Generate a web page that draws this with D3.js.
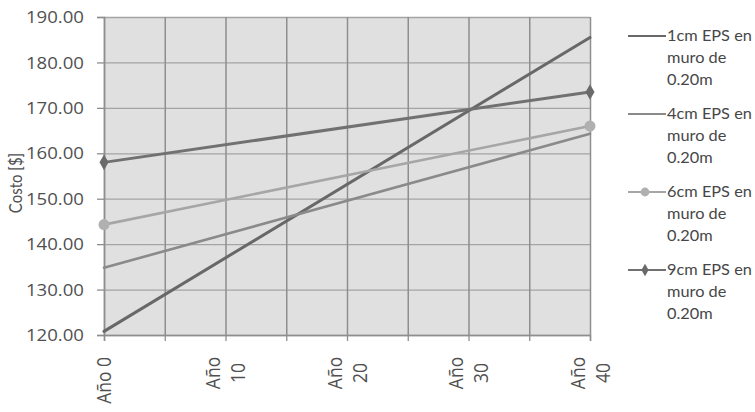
<!DOCTYPE html>
<html>
<head>
<meta charset="utf-8">
<script src="https://cdn.jsdelivr.net/npm/d3@7"></script>
<style>
  html, body { margin: 0; padding: 0; background: #ffffff; }
  svg { display: block; }
</style>
</head>
<body>
<svg id="chart" width="755" height="412"></svg>
<script>
// Years on the category axis (grid every 5 years, labels every 10)
const gridYears = [0, 5, 10, 15, 20, 25, 30, 35, 40];
const tickYears = [0, 10, 20, 30, 40];
const tickLabels = [["Año 0"], ["Año", "10"], ["Año", "20"], ["Año", "30"], ["Año", "40"]];
const costTicks = [120, 130, 140, 150, 160, 170, 180, 190];

// Cost per wall option at year 0 and year 40
const years = [0, 40];
const cost1cm = [120.8, 185.5];
const cost4cm = [134.8, 164.3];
const cost6cm = [144.3, 166.0];
const cost9cm = [158.0, 173.5];

const legendLines = [
  ["1cm EPS en", "muro de", "0.20m"],
  ["4cm EPS en", "muro de", "0.20m"],
  ["6cm EPS en", "muro de", "0.20m"],
  ["9cm EPS en", "muro de", "0.20m"]
];

const series = [
  { values: cost1cm, color: "#686868", width: 3,   marker: null },
  { values: cost4cm, color: "#8a8a8a", width: 2.6, marker: null },
  { values: cost6cm, color: "#a6a6a6", width: 2.6, marker: "circle", markerColor: "#b0b0b0" },
  { values: cost9cm, color: "#717171", width: 3,   marker: "diamond", markerColor: "#6a6a6a" }
];

const svg = d3.select("#chart");
const plotLeft = 104, plotRight = 590, plotTop = 17, plotBottom = 335;

const x = d3.scaleLinear().domain([0, 40]).range([plotLeft, plotRight]);
const y = d3.scaleLinear().domain([120, 190]).range([plotBottom, plotTop]);

// plot background
svg.append("rect")
  .attr("x", plotLeft).attr("y", plotTop)
  .attr("width", plotRight - plotLeft).attr("height", plotBottom - plotTop)
  .attr("fill", "#e0e0e0");

// horizontal gridlines
svg.append("g")
  .attr("transform", `translate(${plotLeft},0)`)
  .call(d3.axisLeft(y).tickValues(costTicks).tickSize(-(plotRight - plotLeft)).tickFormat(""))
  .call(g => g.select(".domain").remove())
  .call(g => g.selectAll(".tick line").attr("stroke", "#a4a4a4").attr("stroke-width", 1.3));

// vertical gridlines
svg.append("g")
  .attr("transform", `translate(0,${plotTop})`)
  .call(d3.axisBottom(x).tickValues(gridYears).tickSize(plotBottom - plotTop).tickFormat(""))
  .call(g => g.select(".domain").remove())
  .call(g => g.selectAll(".tick line").attr("stroke", "#8e8e8e").attr("stroke-width", 1.5));

// y axis with tick marks and labels
const yAxis = svg.append("g")
  .attr("transform", `translate(${plotLeft},0)`)
  .call(d3.axisLeft(y).tickValues(costTicks).tickSize(7).tickPadding(0).tickFormat(d3.format(".2f")));
yAxis.select(".domain").attr("stroke", "#8e8e8e").attr("stroke-width", 1.5);
yAxis.selectAll(".tick line").attr("stroke", "#8e8e8e").attr("stroke-width", 1.3);
yAxis.selectAll(".tick text").remove();
yAxis.selectAll(".tick").append("text")
  .attr("transform", "translate(-20,0) scale(1.2,1)")
  .attr("text-anchor", "end")
  .attr("dy", "0.36em")
  .attr("fill", "#505050")
  .style("font-family", "'Open Sans', sans-serif")
  .style("font-size", "15.5px")
  .text(d => d3.format(".2f")(d));

// x axis with tick marks
const xAxis = svg.append("g")
  .attr("transform", `translate(0,${plotBottom})`)
  .call(d3.axisBottom(x).tickValues(gridYears).tickSize(6).tickFormat(""));
xAxis.select(".domain").attr("stroke", "#8e8e8e").attr("stroke-width", 1.5);
xAxis.selectAll(".tick line").attr("stroke", "#8e8e8e").attr("stroke-width", 1.3);

// rotated year labels
const labelTop = 357;
const lineGap = 21.5;
tickYears.forEach((yr, i) => {
  const lines = tickLabels[i];
  const g = svg.append("g")
    .attr("transform", `translate(${x(yr)},${labelTop}) scale(1.15,1) rotate(-90)`);
  const t = g.append("text")
    .attr("fill", "#505050")
    .style("font-family", "'Open Sans', sans-serif")
    .style("font-size", "17.5px");
  if (lines.length === 1) {
    t.attr("text-anchor", "end").attr("x", 0).attr("y", 0).attr("dy", "0.36em").text(lines[0]);
  } else {
    t.attr("text-anchor", "middle");
    const mid = -16;
    lines.forEach((ln, j) => {
      t.append("tspan")
        .attr("x", mid)
        .attr("y", (j - (lines.length - 1) / 2) * lineGap)
        .attr("dy", "0.36em")
        .text(ln);
    });
  }
});

// y axis title
svg.append("text")
  .attr("transform", "translate(16,183) scale(1.1,1) rotate(-90)")
  .attr("text-anchor", "middle")
  .attr("dy", "0.36em")
  .attr("fill", "#505050")
  .style("font-family", "Lato, sans-serif")
  .style("font-size", "15px")
  .text("Costo [$]");

// series lines
const line = d3.line().x((d, i) => x(years[i])).y(d => y(d));
series.forEach(s => {
  svg.append("path")
    .datum(s.values)
    .attr("d", line)
    .attr("fill", "none")
    .attr("stroke", s.color)
    .attr("stroke-width", s.width)
    .attr("stroke-linecap", "round");
});

function drawMarker(sel, type, cx, cy, color, scale) {
  const k = scale || 1;
  if (type === "circle") {
    sel.append("circle").attr("cx", cx).attr("cy", cy).attr("r", 5.5 * k).attr("fill", color);
  } else if (type === "diamond") {
    sel.append("path")
      .attr("d", d3.symbol().type(d3.symbolDiamond).size(70 * k * k)())
      .attr("transform", `translate(${cx},${cy})`)
      .attr("fill", color);
  }
}

series.forEach(s => {
  if (!s.marker) return;
  s.values.forEach((v, i) => drawMarker(svg, s.marker, x(years[i]), y(v), s.markerColor));
});

// legend
const legendTop = [36, 114, 192, 270];
const legendGap = 22;
series.forEach((s, i) => {
  const ly = legendTop[i];
  svg.append("line")
    .attr("x1", 628).attr("x2", 666)
    .attr("y1", ly).attr("y2", ly)
    .attr("stroke", s.color).attr("stroke-width", 2.2);
  if (s.marker) drawMarker(svg, s.marker, 645, ly, s.markerColor, 0.8);
  const t = svg.append("text")
    .attr("transform", `translate(667,${ly}) scale(1.09,1)`)
    .attr("fill", "#474747")
    .style("font-family", "Lato, sans-serif")
    .style("font-size", "15px");
  legendLines[i].forEach((ln, j) => {
    t.append("tspan").attr("x", 0).attr("y", j * legendGap).attr("dy", "0.36em").text(ln);
  });
});
</script>
</body>
</html>
